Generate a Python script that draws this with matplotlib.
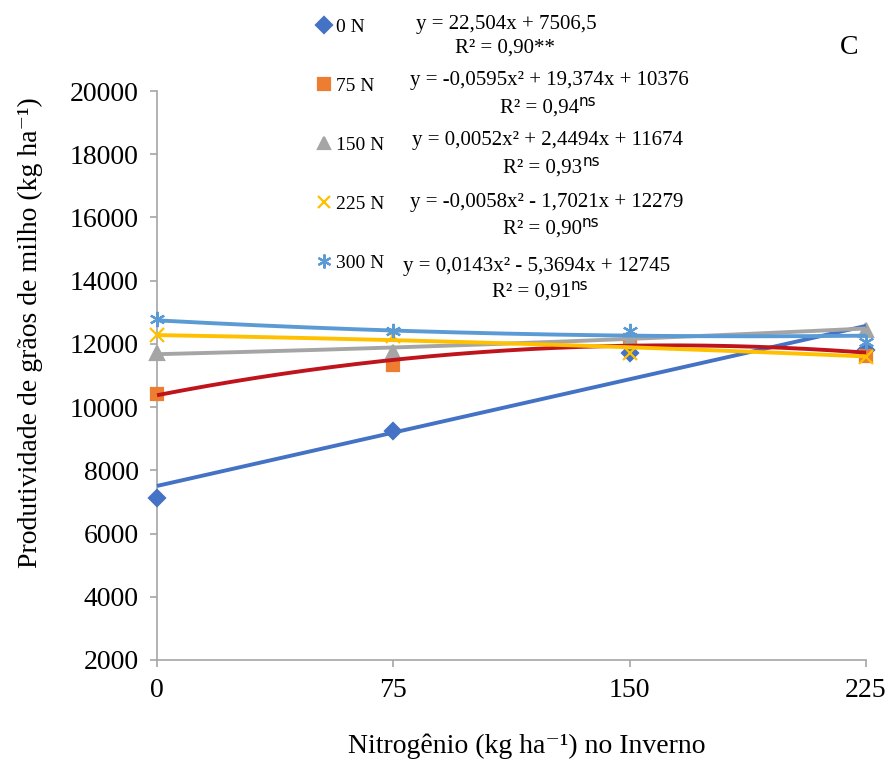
import matplotlib.pyplot as plt
import numpy as np

plt.rcParams['font.family'] = ['Liberation Serif', 'DejaVu Serif']

# doses de N no inverno
doses = [0, 75, 150, 225]

# produtividade media por dose de N no verao
n0 = [7120, 9240, 11700, 11800]
n75 = [10420, 11320, 12120, 11620]
n150 = [11700, 11740, 12100, 12450]
n225 = [12280, 12260, 11700, 11600]
n300 = [12790, 12420, 12420, 12050]

labels = ['0 N', '75 N', '150 N', '225 N', '300 N']

# coeficientes das regressoes (a*x^2 + b*x + c)
coef0 = [0.0, 22.504, 7506.5]
coef75 = [-0.0595, 19.374, 10376]
coef150 = [0.0052, 2.4494, 11674]
coef225 = [-0.0058, -1.7021, 12279]
coef300 = [0.0143, -5.3694, 12745]

equations = ['y = 22,504x + 7506,5',
             'y = -0,0595x² + 19,374x + 10376',
             'y = 0,0052x² + 2,4494x + 11674',
             'y = -0,0058x² - 1,7021x + 12279',
             'y = 0,0143x² - 5,3694x + 12745']
r2_texts = ['R² = 0,90**', 'R² = 0,94', 'R² = 0,93', 'R² = 0,90', 'R² = 0,91']
r2_sup = ['', 'ns', 'ns', 'ns', 'ns']

yticks = np.arange(2000, 20001, 2000)

fig = plt.figure(figsize=(8.87, 7.63), dpi=100)
ax = fig.add_axes([0.177, 0.135, 0.7993, 0.7457])

series = [n0, n75, n150, n225, n300]
coefs = [coef0, coef75, coef150, coef225, coef300]
mcolors = ['#4472C4', '#ED7D31', '#A5A5A5', '#FFC000', '#5B9BD5']
lcolors = ['#4472C4', '#C0141C', '#A5A5A5', '#FFC000', '#5B9BD5']
markers = ['D', 's', '^', 'x', (6, 2, 0)]
msizes = [8, 9, 10, 10, 11]

handles = []
for vals, m, c, ms in zip(series, markers, mcolors, msizes):
    h, = ax.plot(doses, vals, linestyle='none', marker=m, color=c, markersize=ms,
                 markeredgewidth=1.6, clip_on=False, zorder=3)
    handles.append(h)

# linhas de tendencia
xx = np.linspace(0, 225, 200)
for cf, c in zip(coefs, lcolors):
    ax.plot(xx, np.polyval(cf, xx), color=c, linewidth=2.8, solid_capstyle='butt',
            clip_on=False, zorder=4)

ax.set_xlim(0, 225)
ax.set_ylim(2000, 20000)
ax.set_xticks(doses)
ax.set_yticks(yticks)
ax.tick_params(labelsize=20, length=5, width=1.2, color='#a6a6a6', pad=8)
for s in ['top', 'right']:
    ax.spines[s].set_visible(False)
for s in ['left', 'bottom']:
    ax.spines[s].set_color('#a6a6a6')
    ax.spines[s].set_linewidth(1.2)

ax.set_ylabel('Produtividade de grãos de milho (kg ha⁻¹)', fontsize=20)
ax.set_xlabel('Nitrogênio (kg ha⁻¹) no Inverno', fontsize=20)
ax.yaxis.set_label_coords(-0.161, 0.575)
ax.xaxis.set_label_coords(0.522, -0.13)

leg = fig.legend(handles, labels, loc='upper left', bbox_to_anchor=(316 / 887, 1 - 18 / 763),
                 frameon=False, fontsize=14, handlelength=0.8, handletextpad=0.25,
                 labelspacing=2.13, borderpad=0, borderaxespad=0)
for h, ms in zip(leg.legend_handles, [8, 8, 9, 9, 10]):
    h.set_markersize(ms)

# equacoes e R2 de cada ajuste
eq_x = [416, 410, 412, 410, 403]
eq_y = [24, 80, 140, 202, 267]
r2_x = [455, 500, 503, 503, 492]
r2_y = [48, 108, 168, 229, 292]
for i in range(5):
    fig.text(eq_x[i] / 887, 1 - eq_y[i] / 763, equations[i], fontsize=15,
             ha='left', va='center')
    t = fig.text(r2_x[i] / 887, 1 - r2_y[i] / 763, r2_texts[i], fontsize=15,
                 ha='left', va='center')
    if r2_sup[i]:
        ax.annotate(r2_sup[i], xy=(1, 0.85), xycoords=t, ha='left', va='center',
                    fontsize=11, family='DejaVu Sans')

fig.text(849 / 887, 1 - 48 / 763, 'C', fontsize=20, ha='center', va='center')

plt.savefig('out.png', dpi=100)
